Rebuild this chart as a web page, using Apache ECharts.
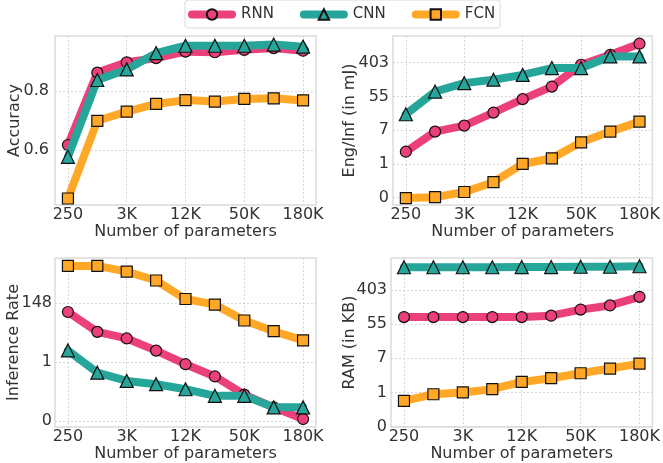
<!DOCTYPE html>
<html>
<head>
<meta charset="utf-8">
<script src="https://cdn.jsdelivr.net/npm/echarts@6/dist/echarts.min.js"></script>
<style>html,body{margin:0;padding:0;background:#fff}#c{width:663px;height:463px}</style>
</head>
<body>
<div id="c"></div>
<script>
// x categories (number of parameters), tick labels shown every other point
const xLabels = ['250', '', '3K', '', '12K', '', '50K', '', '180K'];
const xTickIdx = [0, 2, 4, 6, 8];
const seriesNames = ['RNN', 'CNN', 'FCN'];

// Accuracy
const accRNN = [0.617, 0.862, 0.897, 0.911, 0.933, 0.931, 0.939, 0.945, 0.936];
const accCNN = [0.577, 0.837, 0.873, 0.928, 0.953, 0.953, 0.953, 0.957, 0.950];
const accFCN = [0.436, 0.699, 0.730, 0.756, 0.769, 0.764, 0.773, 0.775, 0.768];

// Energy per inference (mJ), log scale
const engRNN = [2.07, 6.8, 9.7, 21, 46.5, 98, 357, 645, 1240];
const engCNN = [19, 73, 120, 147, 196, 293, 293, 584, 584];
const engFCN = [0.133, 0.14, 0.19, 0.34, 1.0, 1.4, 3.6, 6.8, 12.3];

// Inference rate, log scale
const rateRNN = [69, 12.8, 7.3, 2.6, 0.82, 0.29, 0.062, 0.021, 0.0078];
const rateCNN = [2.64, 0.40, 0.198, 0.15, 0.098, 0.056, 0.056, 0.021, 0.021];
const rateFCN = [3460, 3460, 2140, 1000, 208, 129, 33.5, 13.5, 6.2];

// RAM (KB), log scale
const ramRNN = [82, 82, 82, 82, 82, 89, 127, 162, 268];
const ramCNN = [1510, 1510, 1510, 1510, 1525, 1525, 1555, 1555, 1600];
const ramFCN = [0.61, 0.9, 1.0, 1.21, 1.85, 2.3, 3.07, 4.04, 5.4];

const colors = ['#EC407A', '#26A69A', '#FFA726'];
const symbols = ['circle', 'triangle', 'rect'];
const symSizes = [11, 13, 11];
const FONT = 'DejaVu Sans';
const TXT = '#333';
const FS = 16;

const grids = [
  {left: 55, top: 36, width: 261, height: 169},
  {left: 393, top: 36, width: 262, height: 169},
  {left: 55, top: 258, width: 261, height: 170},
  {left: 391, top: 258, width: 264, height: 170}
].map(g => Object.assign(g, {show: true, borderColor: '#dcdcdc', borderWidth: 1.5, backgroundColor: '#fff'}));

const gridLine = {show: true, lineStyle: {color: '#cfcfcf', type: [2, 2], width: 0.8}};

const xAxes = grids.map((g, i) => ({
  type: 'value', gridIndex: i, min: -0.44, max: 8.44,
  name: 'Number of parameters', nameLocation: 'middle', nameGap: 19, nameMoveOverlap: false,
  nameTextStyle: {fontFamily: FONT, fontSize: FS, color: TXT},
  axisLine: {show: false},
  axisTick: {show: false, customValues: xTickIdx},
  axisLabel: {customValues: xTickIdx, margin: 2, fontFamily: FONT, fontSize: FS, color: TXT,
    formatter: v => xLabels[Math.round(v)]},
  splitLine: gridLine
}));

const lnFmt = v => String(Math.round(Math.exp(v)));
const yCfg = [
  {name: 'Accuracy', min: 0.414, max: 0.986, ticks: [0.6, 0.8], fmt: v => v.toFixed(1), gap: 32, margin: 6},
  {name: 'Eng/Inf (in mJ)', min: -2.43, max: 7.58, ticks: [-2, 0, 2, 4, 6], fmt: lnFmt, gap: 35, margin: 4},
  {name: 'Inference Rate', min: -5.53, max: 8.82, ticks: [-5, 0, 5], fmt: lnFmt, gap: 33, margin: 3},
  {name: 'RAM (in KB)', min: -2.02, max: 7.86, ticks: [-2, 0, 2, 4, 6], fmt: lnFmt, gap: 33, margin: 4}
];
const yAxes = yCfg.map((c, i) => ({
  type: 'value', gridIndex: i, min: c.min, max: c.max,
  name: c.name, nameLocation: 'middle', nameGap: c.gap, nameRotate: 90, nameMoveOverlap: false,
  nameTextStyle: {fontFamily: FONT, fontSize: FS, color: TXT},
  axisLine: {show: false},
  axisTick: {show: false, customValues: c.ticks},
  axisLabel: {customValues: c.ticks, margin: c.margin, fontFamily: FONT, fontSize: FS, color: TXT, formatter: c.fmt},
  splitLine: gridLine
}));

const panels = [
  {data: [accRNN, accCNN, accFCN], tf: v => v},
  {data: [engRNN, engCNN, engFCN], tf: Math.log},
  {data: [rateRNN, rateCNN, rateFCN], tf: Math.log},
  {data: [ramRNN, ramCNN, ramFCN], tf: Math.log}
];

const series = [];
panels.forEach((p, gi) => {
  p.data.forEach((arr, si) => {
    series.push({
      type: 'line', name: seriesNames[si], xAxisIndex: gi, yAxisIndex: gi,
      data: arr.map((v, k) => [k, p.tf(v)]),
      symbol: symbols[si], symbolSize: symSizes[si], showAllSymbol: true,
      z: 2 + si,
      lineStyle: {color: colors[si], width: 8, cap: 'round', join: 'round'},
      itemStyle: {color: colors[si], borderColor: '#111', borderWidth: 1.2},
      emphasis: {disabled: true},
      animation: false
    });
  });
});

const chart = echarts.init(document.getElementById('c'), null, {renderer: 'canvas'});
chart.setOption({
  animation: false,
  backgroundColor: '#fff',
  legend: {
    data: seriesNames, left: 185, top: 0,
    itemWidth: 40, itemHeight: 13, itemGap: 26,
    padding: [7, 5, 6, 3],
    borderColor: '#dadada', borderWidth: 1, borderRadius: 3,
    lineStyle: {width: 8, cap: 'round'},
    formatter: n => '{t|' + n + '}',
    textStyle: {fontFamily: FONT, fontSize: 15, color: TXT,
      rich: {t: {fontFamily: FONT, fontSize: 15, color: TXT, padding: [0, 0, 0, 4]}}}
  },
  grid: grids, xAxis: xAxes, yAxis: yAxes, series: series
});
</script>
</body>
</html>
